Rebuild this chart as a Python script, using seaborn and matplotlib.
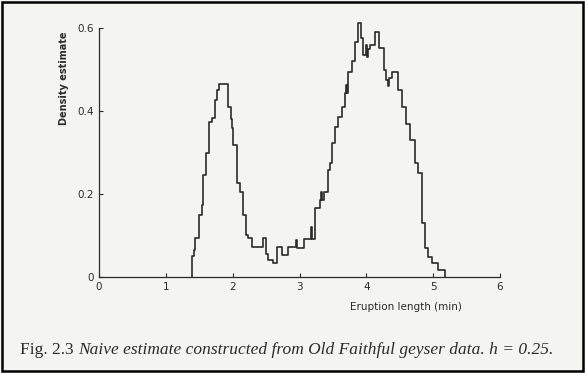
import matplotlib
matplotlib.use("Agg")
import matplotlib.pyplot as plt
import seaborn as sns
import pandas as pd
from matplotlib.patches import Rectangle

# step edges (min) and the density level that starts at each edge
step_x = [1.39, 1.39, 1.42, 1.44, 1.49, 1.54, 1.56, 1.60, 1.64, 1.69, 1.73, 1.76, 1.79,
          1.93, 1.975, 1.99, 2.01, 2.06, 2.11, 2.16, 2.195, 2.235, 2.285, 2.46, 2.495,
          2.535, 2.60, 2.66, 2.745, 2.835, 2.955, 2.97, 3.06, 3.165, 3.18, 3.234, 3.30,
          3.325, 3.335, 3.36, 3.42, 3.45, 3.48, 3.53, 3.58, 3.63, 3.68, 3.70, 3.715,
          3.73, 3.78, 3.83, 3.88, 3.922, 3.957, 3.99, 4.01, 4.03, 4.057, 4.13, 4.197,
          4.257, 4.296, 4.32, 4.345, 4.38, 4.48, 4.53, 4.596, 4.656, 4.73, 4.78, 4.83,
          4.88, 4.93, 4.98, 5.065, 5.18]
density = [0.0, 0.05, 0.065, 0.093, 0.149, 0.173, 0.246, 0.298, 0.374, 0.383, 0.427, 0.451, 0.465,
           0.41, 0.38, 0.36, 0.318, 0.226, 0.205, 0.149, 0.10, 0.093, 0.072, 0.093, 0.056,
           0.04, 0.032, 0.072, 0.052, 0.072, 0.088, 0.07, 0.09, 0.12, 0.09, 0.165, 0.185,
           0.205, 0.185, 0.205, 0.258, 0.275, 0.322, 0.362, 0.386, 0.41, 0.443, 0.462, 0.443,
           0.495, 0.52, 0.568, 0.612, 0.576, 0.535, 0.56, 0.53, 0.55, 0.56, 0.59, 0.552,
           0.50, 0.475, 0.46, 0.48, 0.495, 0.45, 0.41, 0.37, 0.33, 0.274, 0.25, 0.129,
           0.069, 0.048, 0.032, 0.016, 0.0]

x_ticks = [0, 1, 2, 3, 4, 5, 6]
y_ticks = [0, 0.2, 0.4, 0.6]
y_tick_labels = ["0", "0.2", "0.4", "0.6"]

caption_plain = "Fig. 2.3"
caption_italic = "Naive estimate constructed from Old Faithful geyser data. h = 0.25."

sns.set_theme(style="ticks")
paper = "#f4f4f1"
ink = "#2b2b2b"

fig = plt.figure(figsize=(5.85, 3.73), dpi=100, facecolor=paper)
ax = fig.add_axes([99 / 585, 1 - 276.7 / 373, 401 / 585, 248.4 / 373])
ax.set_facecolor(paper)

df = pd.DataFrame({"x": step_x, "y": density})
sns.lineplot(data=df, x="x", y="y", estimator=None, sort=False,
             drawstyle="steps-post", color=ink, linewidth=1.2, ax=ax)
for line in ax.lines:
    line.set_clip_on(False)

ax.set_xlim(0, 6)
ax.set_ylim(0, 0.6)
ax.set_xticks(x_ticks)
ax.set_xticklabels([str(t) for t in x_ticks])
ax.set_yticks(y_ticks)
ax.set_yticklabels(y_tick_labels)
ax.tick_params(direction="in", length=3, width=0.8, colors=ink, labelsize=7.5, pad=4)
sns.despine(ax=ax)
for s in ["left", "bottom"]:
    ax.spines[s].set_color(ink)
    ax.spines[s].set_linewidth(0.9)

ax.set_xlabel("Eruption length (min)", fontsize=7.5, color=ink)
ax.xaxis.set_label_coords(0.765, -0.10)
ax.set_ylabel("Density estimate", fontsize=7, color=ink, fontweight="bold")
ax.yaxis.set_label_coords(-0.075, 0.80)

fig.text(20 / 585, 1 - 350 / 373, caption_plain, family="Liberation Serif",
         fontsize=12.5, color=ink, va="center")
fig.text(78 / 585, 1 - 350 / 373, caption_italic, family="Liberation Serif",
         style="italic", fontsize=12.5, color=ink, va="center")

fig.patches.append(Rectangle((0.004, 0.006), 0.992, 0.988, transform=fig.transFigure,
                             fill=False, edgecolor="black", linewidth=1.8))

fig.savefig("out.png", dpi=100, facecolor=paper)
